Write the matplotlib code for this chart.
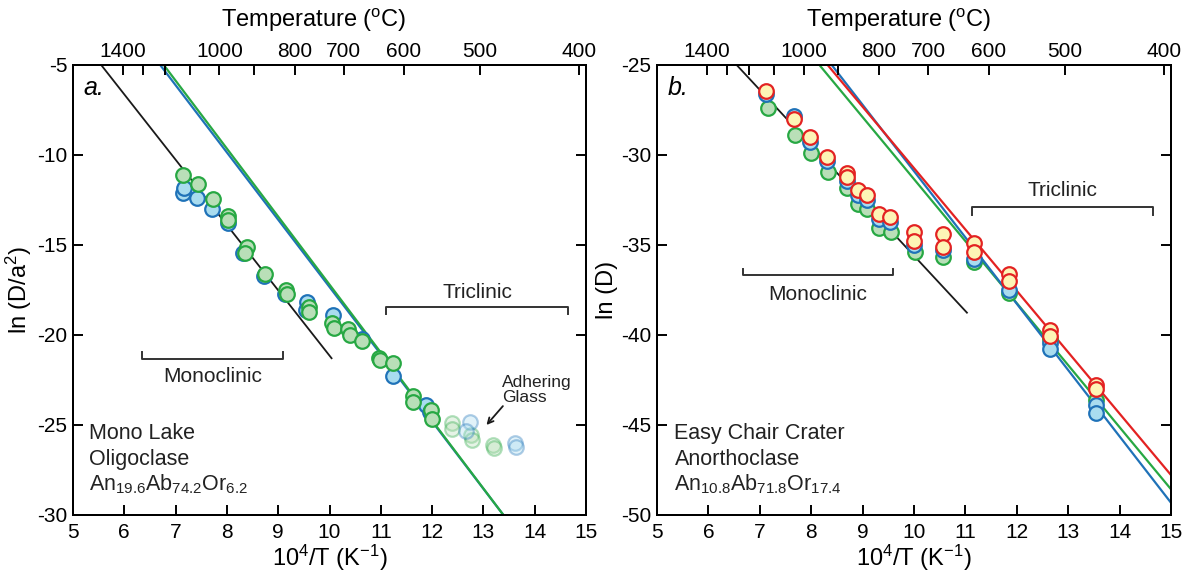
import numpy as np
import matplotlib
matplotlib.use('Agg')
import matplotlib.pyplot as plt

plt.rcParams['font.family'] = ['Liberation Sans', 'DejaVu Sans']
plt.rcParams['mathtext.fontset'] = 'custom'
plt.rcParams['mathtext.rm'] = 'Liberation Sans'
plt.rcParams['mathtext.it'] = 'Liberation Sans:italic'
plt.rcParams['axes.unicode_minus'] = False

# ---- panel a: Mono Lake oligoclase ----
a_blue_x = [7.14, 7.16, 7.41, 7.70, 8.02, 8.32, 8.73, 9.14, 9.57, 9.55, 10.06, 10.63, 11.23, 11.89, 11.95]
a_blue_y = [-12.09, -11.85, -12.41, -13.02, -13.8, -15.46, -16.7, -17.72, -18.15, -18.6, -18.89, -20.2, -22.28, -23.89, -24.3]
a_green_x = [7.15, 7.43, 7.72, 8.03, 8.03, 8.40, 8.35, 8.74, 9.15, 9.17, 9.61, 9.61, 10.04, 10.09,
             10.37, 10.39, 10.63, 10.96, 10.98, 11.24, 11.62, 11.62, 11.97, 12.0]
a_green_y = [-11.11, -11.63, -12.46, -13.39, -13.62, -15.09, -15.46, -16.61, -17.5, -17.72, -18.43, -18.7, -19.35, -19.63,
             -19.68, -20.0, -20.32, -21.3, -21.4, -21.57, -23.37, -23.7, -24.17, -24.67]
a_glass_green_x = [12.38, 12.38, 12.75, 12.78, 13.18, 13.2]
a_glass_green_y = [-24.91, -25.2, -25.56, -25.83, -26.11, -26.3]
a_glass_blue_x = [12.73, 12.67, 13.62, 13.63]
a_glass_blue_y = [-24.82, -25.33, -26.02, -26.24]
# fit lines (end points)
a_black_x = [5.55, 10.04]
a_black_y = [-5, -21.29]
a_blueline_x = [6.70, 13.39]
a_blueline_y = [-5, -30]
a_greenline_x = [6.77, 13.39]
a_greenline_y = [-5, -30]

# ---- panel b: Easy Chair Crater anorthoclase ----
b_red_x = [7.13, 7.67, 7.98, 8.30, 8.69, 8.69, 8.92, 9.09, 9.32, 9.53, 10.0, 10.0, 10.56, 10.56,
           11.17, 11.17, 11.85, 11.85, 12.65, 12.65, 13.55, 13.55]
b_red_y = [-26.43, -28.02, -28.98, -30.09, -31.02, -31.2, -31.94, -32.22, -33.28, -33.43, -34.25, -34.76, -34.39, -35.13,
           -34.87, -35.37, -36.61, -36.98, -39.72, -40.06, -42.78, -43.0]
b_blue_x = [7.13, 7.67, 7.98, 8.30, 8.69, 8.92, 9.09, 9.32, 9.53, 10.0, 10.56, 11.17, 11.85, 12.65, 12.65, 13.55, 13.55]
b_blue_y = [-26.6, -27.85, -29.25, -30.35, -31.45, -32.2, -32.5, -33.55, -33.7, -35.0, -35.3, -35.75, -37.5, -40.46, -40.8, -43.89, -44.35]
b_green_x = [7.15, 7.68, 7.99, 8.33, 8.69, 8.92, 9.09, 9.32, 9.55, 10.02, 10.56, 11.17, 11.85, 12.65, 13.55]
b_green_y = [-27.41, -28.89, -29.87, -30.93, -31.85, -32.72, -33.02, -34.07, -34.26, -35.37, -35.65, -35.93, -37.69, -40.2, -43.61]
b_black_x = [6.55, 11.03]
b_black_y = [-25, -38.76]
b_greenline_x = [8.16, 15.0]
b_greenline_y = [-25, -48.57]
b_blueline_x = [8.40, 15.0]
b_blueline_y = [-25, -49.32]
b_redline_x = [8.32, 15.0]
b_redline_y = [-25, -47.78]

temps_major = [1400, 1000, 800, 700, 600, 500, 400]
temps_minor = [1300, 1200, 1100, 900]

BLUE_E, BLUE_F = '#1f72b8', '#a9dcef'
GREEN_E, GREEN_F = '#27a843', '#b9dfb8'
RED_E, YEL_F = '#e32222', '#fdf5b6'
TXT = '#222222'
MS = 10.5
MEW = 1.6


def inv_T(t):
    return [1e4 / (v + 273.15) for v in t]


def style_axes(ax, ylim, yticks):
    ax.set_xlim(5, 15)
    ax.set_ylim(*ylim)
    ax.set_xticks(range(5, 16))
    ax.set_yticks(yticks)
    ax.tick_params(axis='both', direction='in', length=7, width=1.4, labelsize=15,
                   top=False, right=True, pad=4)
    ax.tick_params(axis='x', pad=6)
    for s in ax.spines.values():
        s.set_linewidth(1.4)
    ax.set_xlabel('10$^4$/T (K$^{-1}$)', fontsize=17, labelpad=0)

    top = ax.twiny()
    top.set_xlim(5, 15)
    top.set_xticks(inv_T(temps_major))
    top.set_xticklabels([str(t) for t in temps_major])
    top.set_xticks(inv_T(temps_minor), minor=True)
    top.tick_params(axis='x', which='both', direction='in', length=7, width=1.4, labelsize=15, pad=3)
    for s in top.spines.values():
        s.set_linewidth(1.4)
    top.set_xlabel('Temperature ($^{\\rm o}$C)', fontsize=17, va='bottom')
    top.xaxis.set_label_coords(0.47, 1.068)


def pts(ax, x, y, fc, ec, alpha=1.0, z=3):
    ax.plot(x, y, 'o', ms=MS, mfc=fc, mec=ec, mew=MEW, alpha=alpha, zorder=z, linestyle='none')


def bracket(ax, x0, x1, y, dy, label, ly):
    ax.plot([x0, x0, x1, x1], [y + dy, y, y, y + dy], color='#333333', lw=1.4)
    ax.text((x0 + x1) / 2, ly, label, ha='center', va='center', fontsize=15, color=TXT)


fig = plt.figure(figsize=(11.85, 5.78), dpi=100)
axa = fig.add_axes([73 / 1185, 63 / 578, 513 / 1185, 450 / 578])
axb = fig.add_axes([657 / 1185, 63 / 578, 514 / 1185, 450 / 578])

# panel a
style_axes(axa, (-30, -5), [-30, -25, -20, -15, -10, -5])
axa.set_ylabel('ln (D/a$^2$)', fontsize=17, labelpad=2)
axa.plot(a_black_x, a_black_y, color='#1a1a1a', lw=1.3, zorder=2)
axa.plot(a_blueline_x, a_blueline_y, color=BLUE_E, lw=1.6, zorder=2)
axa.plot(a_greenline_x, a_greenline_y, color=GREEN_E, lw=1.6, zorder=2)
pts(axa, a_glass_green_x, a_glass_green_y, GREEN_F, GREEN_E, alpha=0.35)
pts(axa, a_glass_blue_x, a_glass_blue_y, BLUE_F, BLUE_E, alpha=0.35)
pts(axa, a_blue_x, a_blue_y, BLUE_F, BLUE_E)
pts(axa, a_green_x, a_green_y, GREEN_F, GREEN_E)
bracket(axa, 11.11, 14.65, -18.43, -0.4, 'Triclinic', -17.65)
bracket(axa, 6.34, 9.10, -21.35, 0.42, 'Monoclinic', -22.3)
axa.text(13.36, -23.05, 'Adhering\nGlass', fontsize=12.5, ha='left', va='center', color=TXT, linespacing=1.05)
axa.annotate('', xy=(13.06, -25.0), xytext=(13.38, -23.95),
             arrowprops=dict(arrowstyle='->', color='#1a1a1a', lw=1.3, shrinkA=0, shrinkB=0))
axa.text(5.2, -6.3, 'a.', fontsize=18, style='italic', ha='left', va='center')
axa.text(5.31, -25.79, 'Mono Lake', fontsize=15.5, ha='left', va='baseline', color=TXT)
axa.text(5.31, -27.2, 'Oligoclase', fontsize=15.5, ha='left', va='baseline', color=TXT)
axa.text(5.31, -28.61, 'An$_{19.6}$Ab$_{74.2}$Or$_{6.2}$', fontsize=15.5, ha='left', va='baseline', color=TXT)

# panel b
style_axes(axb, (-50, -25), [-50, -45, -40, -35, -30, -25])
axb.set_ylabel('ln (D)', fontsize=17, labelpad=2)
axb.plot(b_black_x, b_black_y, color='#1a1a1a', lw=1.3, zorder=2)
axb.plot(b_greenline_x, b_greenline_y, color=GREEN_E, lw=1.6, zorder=2)
axb.plot(b_blueline_x, b_blueline_y, color=BLUE_E, lw=1.6, zorder=2)
axb.plot(b_redline_x, b_redline_y, color=RED_E, lw=1.6, zorder=2)
pts(axb, b_green_x, b_green_y, GREEN_F, GREEN_E)
pts(axb, b_blue_x, b_blue_y, BLUE_F, BLUE_E)
pts(axb, b_red_x, b_red_y, YEL_F, RED_E)
bracket(axb, 11.13, 14.65, -32.89, -0.42, 'Triclinic', -32.0)
bracket(axb, 6.67, 9.59, -36.67, 0.35, 'Monoclinic', -37.75)
axb.text(5.2, -26.3, 'b.', fontsize=18, style='italic', ha='left', va='center')
axb.text(5.34, -45.79, 'Easy Chair Crater', fontsize=15.5, ha='left', va='baseline', color=TXT)
axb.text(5.34, -47.2, 'Anorthoclase', fontsize=15.5, ha='left', va='baseline', color=TXT)
axb.text(5.34, -48.61, 'An$_{10.8}$Ab$_{71.8}$Or$_{17.4}$', fontsize=15.5, ha='left', va='baseline', color=TXT)

fig.savefig('out.png', dpi=100)
